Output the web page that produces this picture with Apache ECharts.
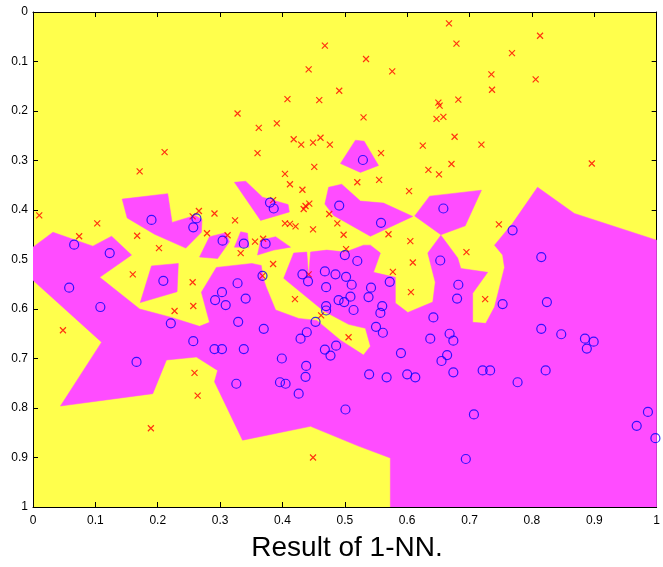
<!DOCTYPE html>
<html>
<head>
<meta charset="utf-8">
<script src="https://cdn.jsdelivr.net/npm/echarts@6/dist/echarts.min.js"></script>
<style>
  html, body { margin: 0; padding: 0; background: #fff; }
  #chart { width: 663px; height: 567px; }
</style>
</head>
<body>
<div id="chart"></div>
<script>
// class 1 samples (red x)
var crosses = [
  [0.211, 0.283], [0.171, 0.322], [0.468, 0.068], [0.442, 0.116], [0.491, 0.159],
  [0.408, 0.176], [0.459, 0.178], [0.530, 0.213], [0.328, 0.205], [0.362, 0.234],
  [0.391, 0.225], [0.418, 0.257], [0.430, 0.268], [0.449, 0.264], [0.461, 0.254],
  [0.476, 0.268], [0.360, 0.285], [0.451, 0.313], [0.404, 0.327], [0.667, 0.023],
  [0.679, 0.064], [0.768, 0.083], [0.534, 0.095], [0.576, 0.120], [0.735, 0.126],
  [0.736, 0.157], [0.682, 0.177], [0.650, 0.183], [0.652, 0.189], [0.647, 0.216],
  [0.658, 0.212], [0.676, 0.252], [0.625, 0.270], [0.719, 0.268], [0.558, 0.285],
  [0.671, 0.307], [0.634, 0.319], [0.651, 0.328], [0.555, 0.339], [0.813, 0.048],
  [0.806, 0.136], [0.896, 0.306], [0.010, 0.411], [0.103, 0.427], [0.074, 0.453],
  [0.167, 0.452], [0.202, 0.477], [0.256, 0.413], [0.266, 0.402], [0.160, 0.530],
  [0.256, 0.546], [0.257, 0.594], [0.227, 0.604], [0.048, 0.643], [0.412, 0.348],
  [0.432, 0.359], [0.520, 0.344], [0.291, 0.407], [0.324, 0.421], [0.279, 0.447],
  [0.312, 0.451], [0.356, 0.464], [0.369, 0.458], [0.333, 0.487], [0.385, 0.380],
  [0.437, 0.392], [0.443, 0.387], [0.434, 0.398], [0.475, 0.408], [0.404, 0.427],
  [0.412, 0.428], [0.421, 0.433], [0.449, 0.439], [0.488, 0.427], [0.498, 0.450],
  [0.502, 0.479], [0.385, 0.509], [0.368, 0.533], [0.442, 0.530], [0.420, 0.580],
  [0.462, 0.613], [0.506, 0.657], [0.259, 0.729], [0.264, 0.775], [0.449, 0.900],
  [0.189, 0.841], [0.603, 0.362], [0.747, 0.429], [0.570, 0.449], [0.605, 0.463],
  [0.695, 0.485], [0.609, 0.506], [0.577, 0.525], [0.606, 0.566], [0.725, 0.580]
];

// class 2 samples (blue o)
var circles = [
  [0.529, 0.299], [0.190, 0.420], [0.257, 0.435], [0.262, 0.417], [0.066, 0.470],
  [0.123, 0.487], [0.058, 0.557], [0.209, 0.543], [0.108, 0.596], [0.221, 0.629],
  [0.257, 0.665], [0.380, 0.385], [0.386, 0.397], [0.491, 0.391], [0.304, 0.462],
  [0.338, 0.468], [0.373, 0.468], [0.500, 0.491], [0.520, 0.503], [0.368, 0.533],
  [0.432, 0.530], [0.441, 0.544], [0.468, 0.524], [0.485, 0.530], [0.502, 0.535],
  [0.511, 0.551], [0.470, 0.556], [0.328, 0.548], [0.303, 0.566], [0.292, 0.582],
  [0.309, 0.592], [0.341, 0.579], [0.490, 0.582], [0.499, 0.586], [0.509, 0.575],
  [0.470, 0.594], [0.470, 0.603], [0.514, 0.602], [0.329, 0.626], [0.370, 0.640],
  [0.453, 0.626], [0.439, 0.647], [0.429, 0.660], [0.291, 0.681], [0.303, 0.681],
  [0.338, 0.681], [0.486, 0.674], [0.468, 0.682], [0.477, 0.694], [0.399, 0.700],
  [0.438, 0.715], [0.437, 0.737], [0.326, 0.751], [0.396, 0.748], [0.405, 0.751],
  [0.426, 0.771], [0.501, 0.803], [0.166, 0.707], [0.658, 0.397], [0.558, 0.426],
  [0.769, 0.441], [0.653, 0.502], [0.572, 0.545], [0.682, 0.551], [0.680, 0.579],
  [0.753, 0.590], [0.542, 0.557], [0.538, 0.576], [0.560, 0.594], [0.557, 0.608],
  [0.642, 0.617], [0.550, 0.636], [0.561, 0.648], [0.637, 0.660], [0.668, 0.650],
  [0.674, 0.664], [0.590, 0.689], [0.664, 0.693], [0.655, 0.705], [0.674, 0.728],
  [0.539, 0.732], [0.567, 0.738], [0.600, 0.732], [0.613, 0.738], [0.721, 0.724],
  [0.733, 0.724], [0.707, 0.813], [0.694, 0.903], [0.815, 0.495], [0.824, 0.586],
  [0.815, 0.640], [0.847, 0.651], [0.885, 0.660], [0.899, 0.666], [0.888, 0.680],
  [0.822, 0.724], [0.777, 0.748], [0.986, 0.808], [0.968, 0.836], [0.998, 0.861]
];

// decision region of class 2 (magenta), outlines
var regionMain = [
  [0, 0.475], [0.032, 0.445], [0.096, 0.473], [0.126, 0.453], [0.158, 0.491],
  [0.107, 0.536], [0.171, 0.600], [0.222, 0.617], [0.267, 0.635], [0.283, 0.627],
  [0.270, 0.566], [0.294, 0.516], [0.351, 0.508], [0.366, 0.512], [0.369, 0.538],
  [0.374, 0.556], [0.389, 0.602], [0.426, 0.619], [0.455, 0.623], [0.493, 0.663],
  [0.530, 0.693], [0.541, 0.675], [0.533, 0.639], [0.506, 0.631], [0.466, 0.604],
  [0.402, 0.538], [0.418, 0.487], [0.439, 0.485], [0.442, 0.536], [0.445, 0.485],
  [0.471, 0.481], [0.501, 0.485], [0.530, 0.471], [0.541, 0.471], [0.557, 0.487],
  [0.546, 0.526], [0.581, 0.536], [0.581, 0.588], [0.601, 0.607], [0.641, 0.586],
  [0.645, 0.546], [0.633, 0.487], [0.654, 0.451], [0.681, 0.497], [0.686, 0.518],
  [0.729, 0.526], [0.705, 0.568], [0.705, 0.627], [0.726, 0.629], [0.740, 0.596],
  [0.756, 0.516], [0.753, 0.491], [0.740, 0.471], [0.769, 0.427], [0.809, 0.354],
  [0.868, 0.407], [1, 0.461], [1, 1], [0.573, 1], [0.573, 0.901],
  [0.522, 0.877], [0.445, 0.837], [0.336, 0.865], [0.291, 0.747], [0.296, 0.724],
  [0.262, 0.697], [0.214, 0.703], [0.192, 0.771], [0.044, 0.796], [0.110, 0.667],
  [0, 0.542]
];
var regionA = [[0.143, 0.378], [0.216, 0.367], [0.223, 0.425], [0.260, 0.411], [0.271, 0.419],
  [0.270, 0.445], [0.245, 0.477], [0.195, 0.449], [0.151, 0.416]];
var regionB = [[0.190, 0.513], [0.233, 0.508], [0.231, 0.565], [0.172, 0.587]];
var regionC = [[0.474, 0.354], [0.495, 0.348], [0.525, 0.382], [0.562, 0.386], [0.609, 0.413],
  [0.541, 0.453], [0.482, 0.411], [0.468, 0.388]];
var regionD = [[0.612, 0.412], [0.636, 0.372], [0.719, 0.360], [0.693, 0.432], [0.654, 0.450]];
var regionE = [[0.493, 0.306], [0.517, 0.259], [0.531, 0.261], [0.554, 0.310], [0.525, 0.324]];
var regionF = [[0.323, 0.344], [0.341, 0.342], [0.368, 0.374], [0.409, 0.389], [0.411, 0.404], [0.365, 0.421]];
var regionG = [[0.267, 0.495], [0.283, 0.454], [0.309, 0.446], [0.315, 0.464], [0.296, 0.498]];
var regionH = [[0.323, 0.475], [0.333, 0.444], [0.344, 0.447], [0.346, 0.475]];
var regionI = [[0.360, 0.491], [0.365, 0.461], [0.389, 0.454], [0.413, 0.475], [0.386, 0.481]];

var regions = [regionMain, regionA, regionB, regionC, regionD, regionE, regionF, regionG, regionH, regionI];

var ticks = [0, 0.1, 0.2, 0.3, 0.4, 0.5, 0.6, 0.7, 0.8, 0.9, 1];

var chart = echarts.init(document.getElementById('chart'));

function tickLabel(v) {
  return String(Math.round(v * 10) / 10);
}

var axisCommon = {
  type: 'value',
  min: ticks[0],
  max: ticks[ticks.length - 1],
  interval: 0.1,
  splitLine: { show: false },
  axisLine: { show: true, onZero: false, lineStyle: { color: '#000', width: 1 } },
  axisTick: { show: true, inside: true, length: 5, lineStyle: { color: '#000' } }
};

var labelStyle = {
  color: '#000',
  fontSize: 12,
  fontFamily: 'Liberation Sans, Arial, sans-serif',
  formatter: tickLabel
};

var option = {
  animation: false,
  backgroundColor: '#fff',
  grid: {
    left: 33, top: 12, width: 627, height: 495,
    show: true, backgroundColor: '#ffff4c', borderWidth: 0
  },
  xAxis: [
    Object.assign({}, axisCommon, { position: 'bottom', axisLabel: Object.assign({ margin: 8 }, labelStyle) }),
    Object.assign({}, axisCommon, { position: 'top', axisLabel: { show: false } })
  ],
  yAxis: [
    Object.assign({}, axisCommon, { position: 'left', inverse: true, axisLabel: Object.assign({ margin: 5 }, labelStyle) }),
    Object.assign({}, axisCommon, { position: 'right', inverse: true, axisLabel: { show: false } })
  ],
  graphic: [{
    type: 'text',
    x: 347,
    y: 548,
    style: {
      text: 'Result of 1-NN.',
      fill: '#000',
      align: 'center',
      verticalAlign: 'middle',
      font: '28px "Liberation Sans", Arial, sans-serif'
    }
  }],
  series: [
    {
      type: 'custom',
      silent: true,
      clip: true,
      z: 1,
      data: regions.map(function (r, i) { return [i]; }),
      renderItem: function (params, api) {
        var poly = regions[params.dataIndex];
        var pts = poly.map(function (p) { return api.coord(p); });
        return {
          type: 'polygon',
          shape: { points: pts },
          style: { fill: '#ff4cff', stroke: '#ff4cff', lineWidth: 0.5 }
        };
      }
    },
    {
      type: 'scatter',
      silent: true,
      z: 3,
      data: crosses,
      symbol: 'path://M0,0L10,10M10,0L0,10',
      symbolSize: 6,
      itemStyle: { color: 'none', borderColor: '#ff0000', borderWidth: 1.2 }
    },
    {
      type: 'scatter',
      silent: true,
      z: 3,
      data: circles,
      symbol: 'circle',
      symbolSize: 9,
      itemStyle: { color: 'none', borderColor: '#0000ff', borderWidth: 1.2 }
    }
  ]
};

chart.setOption(option);
</script>
</body>
</html>
